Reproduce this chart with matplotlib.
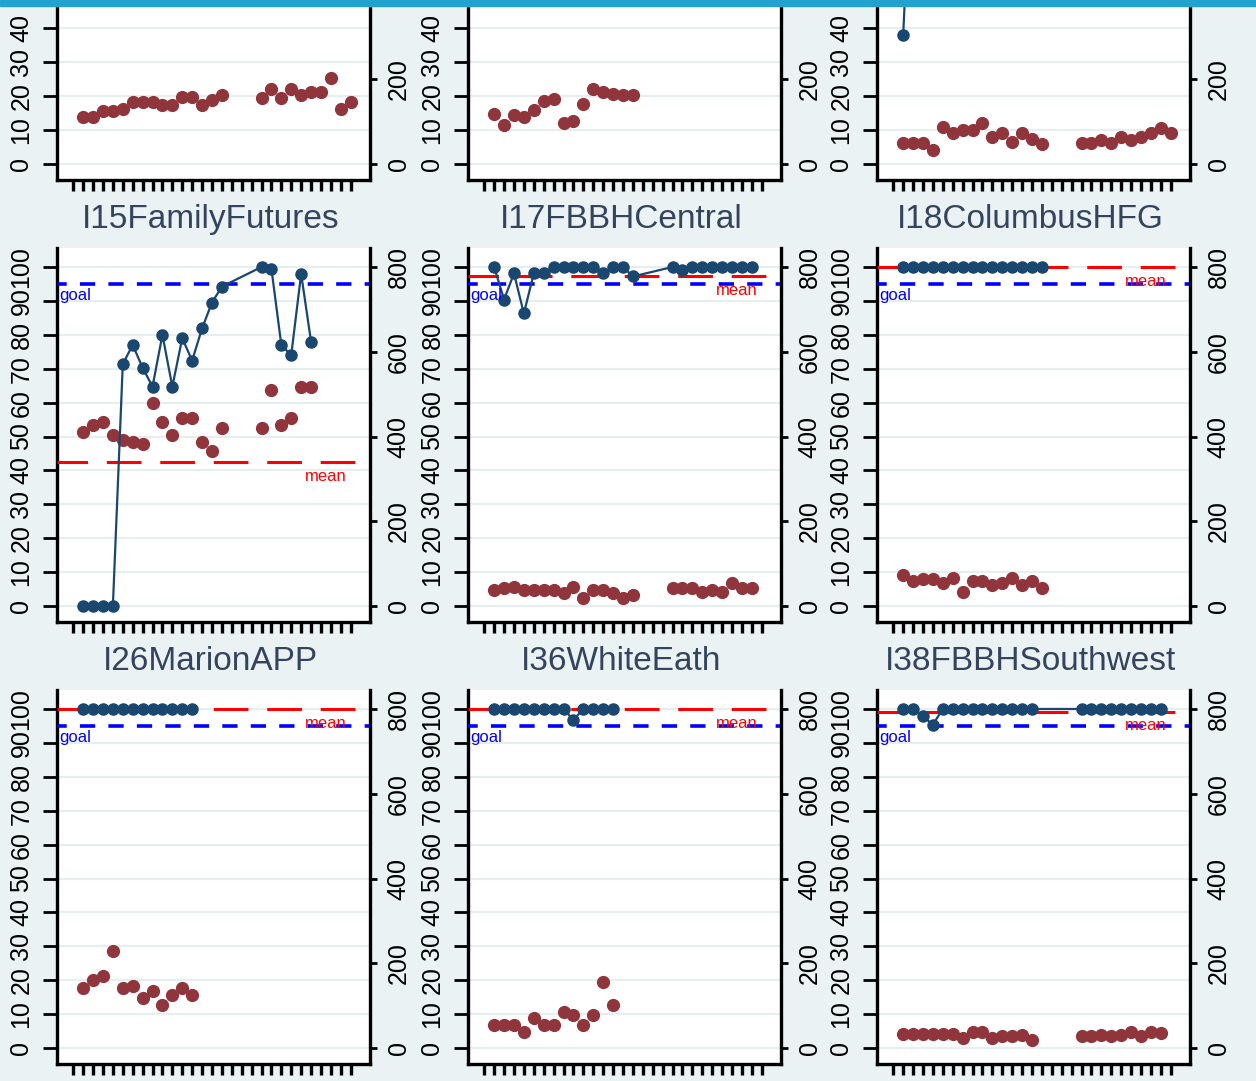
import matplotlib.pyplot as plt
from matplotlib.patches import Rectangle

# colours (stata s2color look)
BG = "#eaf2f3"
GRID = "#e6eef0"
NAVY = "#1a476f"
MAROON = "#90353b"
BAND = "#22a3cf"

plt.rcParams['font.family'] = ['Liberation Sans', 'DejaVu Sans']
plt.rcParams['lines.scale_dashes'] = False

N = None
months = list(range(1, 29))
GOAL = 95

# --- per-site series: pct = % meeting goal (left axis), cnt = clients (right axis)
top1_cnt = [110, 110, 125, 125, 131, 147, 147, 147, 139, 139, 158, 158, 139, 151, 163,
            N, N, N, 155, 176, 155, 176, 163, 170, 170, 202, 131, 147]
top2_cnt = [118, 92, 116, 111, 128, 149, 154, 97, 102, 142, 176, 170, 165, 163, 163]
top3_pct = [38, 100]
top3_cnt = [49, 49, 49, 33, 88, 73, 80, 80, 96, 65, 73, 53, 73, 58, 47,
            N, N, N, 49, 49, 57, 49, 65, 57, 65, 73, 84, 73]

ff_pct = [0, 0, 0, 0, 71.4, 77, 70.3, 64.7, 80, 64.7, 79, 72.4, 81.9, 89.5, 94.2,
          N, N, N, 100, 99.5, 77, 74, 98, 78]
ff_cnt = [411, 427, 435, 403, 392, 388, 382, 480, 435, 403, 443, 443, 388, 366, 419,
          N, N, N, 419, 510, 427, 443, 518, 518]
ff_mean = 42.5

fc_pct = [100, 90.4, 98.1, 86.3, 98.1, 98.1, 100, 100, 100, 100, 100, 98.1, 100, 100, 97.2,
          N, N, N, 100, 99.1, 100, 100, 100, 100, 100, 100, 100]
fc_cnt = [38, 42, 46, 38, 38, 38, 38, 30, 46, 18, 38, 38, 30, 18, 26,
          N, N, N, 42, 42, 42, 34, 38, 34, 54, 42, 42]
fc_mean = 97.3

col_pct = [100] * 15
col_cnt = [73, 58, 63, 63, 55, 66, 34, 58, 58, 50, 54, 66, 50, 58, 42]
col_mean = 100

ma_pct = [100] * 12
ma_cnt = [142, 161, 169, 230, 142, 146, 118, 134, 102, 126, 142, 126]
ma_mean = 100

we_pct = [100, 100, 100, 100, 100, 100, 100, 100, 96.8, 100, 100, 100, 100]
we_cnt = [55, 55, 55, 39, 70, 55, 55, 86, 78, 55, 78, 155, 102]
we_mean = 100

sw_pct = [100, 100, 97.8, 95.4, 100, 100, 100, 100, 100, 100, 100, 100, 100, 100,
          N, N, N, N, 100, 100, 100, 100, 100, 100, 100, 100, 100]
sw_cnt = [33, 33, 33, 33, 33, 33, 24, 39, 39, 24, 28, 28, 32, 19,
          N, N, N, N, 28, 28, 32, 28, 32, 39, 28, 39, 35]
sw_mean = 99.2

titles = [None, None, None,
          "I15FamilyFutures", "I17FBBHCentral", "I18ColumbusHFG",
          "I26MarionAPP", "I36WhiteEath", "I38FBBHSouthwest"]
pcts = [[], [], top3_pct, ff_pct, fc_pct, col_pct, ma_pct, we_pct, sw_pct]
cnts = [top1_cnt, top2_cnt, top3_cnt, ff_cnt, fc_cnt, col_cnt, ma_cnt, we_cnt, sw_cnt]
means = [N, N, N, ff_mean, fc_mean, col_mean, ma_mean, we_mean, sw_mean]

pct_ticks = list(range(0, 101, 10))
cnt_ticks = [0, 200, 400, 600, 800]


def pairs(vals):
    xs = [m for m, v in zip(months, vals) if v is not None]
    ys = [v for v in vals if v is not None]
    return xs, ys


W, H = 1256, 1081
fig = plt.figure(figsize=(W / 100, H / 100), dpi=100, facecolor=BG)

col_left = [57, 468, 877]
row_bottom = [180, 622, 1064]
pw, ph = 313, 374
YLO, YHI = -4.7, 105.6

for i in range(9):
    r, c = divmod(i, 3)
    ax = fig.add_axes([col_left[c] / W, (H - row_bottom[r]) / H, pw / W, ph / H])
    ax.set_facecolor("white")
    ax.set_xlim(-1.64, 29.95)
    ax.set_ylim(YLO, YHI)
    ax2 = ax.twinx()
    ax2.set_ylim(YLO * 8, YHI * 8)
    ax2.patch.set_visible(False)

    # gridlines
    ax.set_yticks(pct_ticks)
    ax.grid(axis='y', color=GRID, lw=1.6)
    ax.set_axisbelow(True)

    # reference lines (top row: above the visible part)
    if r > 0:
        ax.axhline(GOAL, color="#0000ff", lw=2.6, linestyle=(4, (11, 9.5)), zorder=3)
        ax.text(0.006, GOAL - 1.3, "goal", color="#0000ff", fontsize=12,
                ha='left', va='top', transform=ax.get_yaxis_transform(), zorder=5)
    if means[i] is not None:
        ax.axhline(means[i], color="#ff0000", lw=2.2, linestyle=(3, (25, 13.5)), zorder=3)
        ax.text(0.925, means[i] - 2.0, "mean", color="#ff0000", fontsize=12,
                ha='right', va='top', transform=ax.get_yaxis_transform(), zorder=5)

    # client counts on the right-hand scale
    cx, cy = pairs(cnts[i])
    ax.plot(cx, cy, 'o', color=MAROON, ms=8.5, mec=MAROON, transform=ax2.transData, zorder=2)

    # percent line
    if pcts[i]:
        px, py = pairs(pcts[i])
        ax.plot(px, py, '-o', color=NAVY, lw=1.6, ms=8, zorder=4)

    # axes styling
    ax.set_xticks(range(29))
    ax.set_xticklabels([])
    ax.tick_params(axis='x', length=8, width=2.4, direction='out', color='black')
    ax.tick_params(axis='y', length=10, width=2, pad=7, labelsize=18, labelrotation=90)
    ax2.set_yticks(cnt_ticks)
    ax2.tick_params(axis='y', length=5, width=2, pad=7, labelsize=18, labelrotation=90)
    if r == 0:
        # top row runs past the upper edge: only label the ticks in view
        ax.set_yticklabels([str(t) if t <= 40 else "" for t in pct_ticks])
        ax2.set_yticklabels([str(t) if t <= 200 else "" for t in cnt_ticks])
    for lab in ax.get_yticklabels() + ax2.get_yticklabels():
        lab.set_va('center')

    for s in ['top', 'right']:
        ax.spines[s].set_visible(False)
    for s in ['top', 'left', 'bottom']:
        ax2.spines[s].set_visible(False)
    for sp in [ax.spines['left'], ax.spines['bottom'], ax2.spines['right']]:
        sp.set_linewidth(2.4)
        sp.set_color('black')

    if titles[i]:
        ax.text(0.49, 1.075, titles[i], transform=ax.transAxes, ha='center', va='center',
                fontsize=24, color="#34435e")

# window band along the top edge
fig.add_artist(Rectangle((0, 1 - 6 / H), 1, 6 / H, transform=fig.transFigure,
                         color=BAND, zorder=10))

fig.savefig("out.png", dpi=100, facecolor=BG)
